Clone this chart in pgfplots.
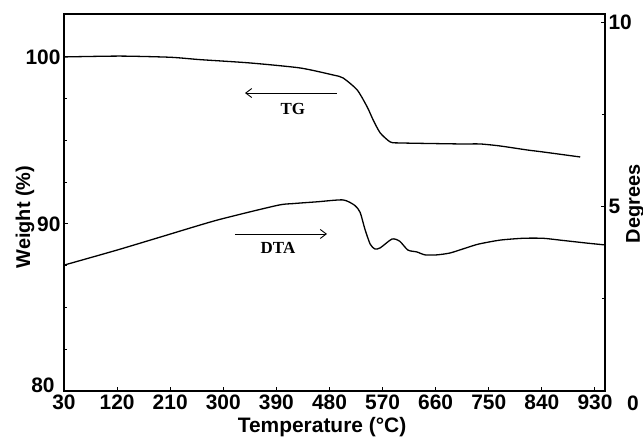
\documentclass[border=0pt]{standalone}
\usepackage{fontspec}
\setmainfont{Liberation Sans}
\newfontfamily\serifb{Liberation Serif}
\usepackage{pgfplots}
\pgfplotsset{compat=1.18}
\usetikzlibrary{calc,arrows.meta}

\pgfplotsset{
  tgstyle/.style={
    scale only axis, width=541bp, height=377bp,
    xmin=30, xmax=947,
    tick align=inside,
    major tick length=4bp, minor tick length=3bp,
    every tick/.style={black, line width=1bp},
    /pgf/number format/assume math mode=true,
    tick label style={font=\fontsize{21}{21}\selectfont\bfseries},
    label style={font=\fontsize{20}{20}\selectfont\bfseries},
    axis line style={line width=1.2bp},
  },
}

\begin{document}
\begin{tikzpicture}[x=1bp,y=1bp]
\begin{axis}[tgstyle, name=ax, clip=false,
  ymin=80, ymax=102.57,
  xtick={30,120,...,930}, xtick pos=bottom,
  ytick={80,90,100}, yticklabels={,90,100},
  minor ytick={82.5,85,87.5,92.5,95,97.5}, ytick pos=left,
  xlabel={Temperature (°C)},
  xlabel style={at={(axis description cs:0.477,-0.0955)}, anchor=center, font=\fontsize{21}{21}\selectfont\bfseries},
  ylabel={Weight (\%)},
  ylabel style={at={(axis description cs:-0.072,0.4615)}, anchor=center},
]
\addplot[black, line width=1.3bp, smooth, tension=0.4] coordinates {
  (30,100.00) (125,100.05) (210,99.98) (260,99.84) (345,99.64) (430,99.34)
  (486,98.92) (503,98.74) (527,98.02) (544,97.00) (554,96.23) (566,95.45)
  (583,94.91) (599,94.85) (701,94.79) (735,94.79) (769,94.67) (815,94.43)
  (842,94.31) (905,94.01)
};
\draw[line width=0.9bp, -{Straight Barb[length=6bp,width=9bp]}] (axis cs:492.7,97.84) -- (axis cs:336.8,97.84);
\node[font=\serifb\bfseries\fontsize{17}{17}\selectfont] at (axis cs:418,96.89) {TG};
\draw[line width=0.9bp, -{Straight Barb[length=6bp,width=9bp]}] (axis cs:319.8,89.40) -- (axis cs:475.8,89.40);
\node[font=\serifb\bfseries\fontsize{17}{17}\selectfont] at (axis cs:392.7,88.56) {DTA};
\node[anchor=east, font=\fontsize{21}{21}\selectfont\bfseries] at (axis description cs:-0.011,0.016) {80};
\node[font=\fontsize{21}{21}\selectfont\bfseries] at (axis description cs:1.0518,-0.0318) {0};
\end{axis}
\begin{axis}[tgstyle,
  ymin=0, ymax=10.22,
  axis y line*=right, hide x axis,
  ytick={0,5,10}, yticklabels={,5,10}, minor ytick={2.5,7.5},
  ylabel={Degrees},
  ylabel style={at={(axis description cs:1.0555,0.496)}, anchor=center},
]
\addplot[black, line width=1.3bp, smooth, tension=0.4] coordinates {
  (31.7,3.42) (119.8,3.82) (192.7,4.17) (289,4.63) (391,5.03) (418,5.08)
  (460,5.13) (503,5.18) (523,5.03) (532,4.84) (540,4.39) (549,3.98)
  (557,3.85) (566,3.88) (586,4.12) (599,4.06) (613,3.82) (628,3.77)
  (642,3.69) (662,3.69) (684,3.74) (706,3.85) (732,3.98) (769,4.09)
  (808,4.14) (842,4.14) (871,4.09) (916,4.01) (947,3.96)
};
\end{axis}
\pgfresetboundingbox
\path[use as bounding box] ($(ax.south west)+(-64,-49)$) rectangle ($(ax.north east)+(38,14)$);
\end{tikzpicture}
\end{document}
